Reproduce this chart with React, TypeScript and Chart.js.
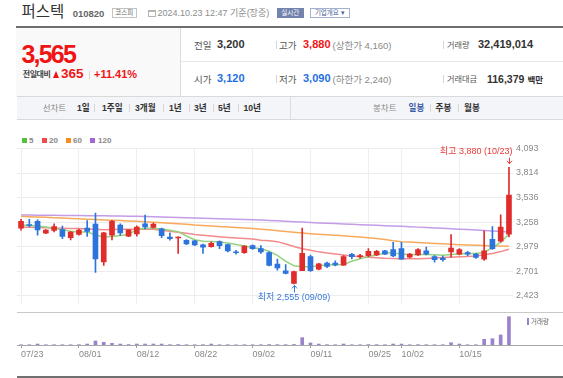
import React, { useEffect, useRef } from "react";
import { Chart, registerables } from "chart.js";
Chart.register(...registerables);

const FONT = '"Liberation Sans", "Noto Sans CJK KR", sans-serif';

const DATES = [
  "07/23","07/24","07/25","07/26","07/29","07/30","07/31",
  "08/01","08/02","08/05","08/06","08/07","08/08","08/09","08/12","08/13","08/14","08/16","08/19","08/20","08/21","08/22","08/23","08/26","08/27","08/28","08/29","08/30",
  "09/02","09/03","09/04","09/05","09/06","09/09","09/10","09/11","09/12","09/13","09/19","09/20","09/23","09/24","09/25","09/26","09/27","09/30",
  "10/02","10/04","10/07","10/08","10/10","10/11","10/14","10/15","10/16","10/17","10/18","10/21","10/22","10/23",
];
const AXIS_DATES = ["07/23","08/01","08/12","08/22","09/02","09/11","09/25","10/02","10/15"];

const OPEN = [3188,3228,3266,3130,3162,3173,3080,3116,3188,3234,2804,3108,3223,3097,3123,3237,3198,3180,3087,3076,3051,3044,2998,2979,3037,3001,2919,2909,2990,2955,2912,2779,2704,2560,2704,2865,2722,2793,2793,2768,2890,2865,2876,2883,2930,2944,2955,2858,2883,2930,2865,2847,2919,2894,2912,2894,2836,3062,3040,3120];
const HIGH = [3288,3288,3284,3173,3237,3212,3151,3177,3274,3359,3140,3277,3237,3169,3215,3338,3245,3188,3134,3090,3059,3051,3008,3033,3044,3008,2936,2990,2998,2990,2919,2836,2775,2700,3188,2883,2790,2804,2818,2876,2901,2890,2955,2936,2936,3026,3026,2901,2955,2973,2876,2872,3116,2955,2926,2901,3159,3205,3341,3880];
const LOW = [3166,3202,3108,3126,3145,3069,3054,3108,3094,2686,2765,3054,3105,3091,3097,3180,3188,3080,3051,2901,3001,2990,2901,2973,2955,2919,2893,2901,2947,2901,2758,2711,2668,2555,2704,2697,2715,2740,2758,2765,2840,2847,2865,2876,2887,2865,2836,2851,2876,2883,2801,2812,2858,2883,2876,2844,2822,2947,3030,3090];
const CLOSE = [3266,3218,3169,3166,3205,3094,3145,3166,3151,2840,3134,3266,3134,3169,3201,3201,3234,3102,3070,3087,3008,2998,2973,3015,2990,2930,2909,2984,2955,2919,2764,2736,2675,2694,2901,2704,2783,2754,2772,2865,2865,2876,2926,2926,2894,2872,2836,2894,2944,2894,2829,2829,2962,2944,2894,2855,2930,2955,3200,3565];
const VOLUME = [300000,300000,1100000,300000,300000,300000,300000,400000,1100000,4600000,3100000,1900000,1100000,500000,1100000,1100000,1100000,1100000,400000,500000,300000,300000,400000,1100000,300000,300000,200000,300000,300000,300000,500000,400000,400000,600000,8400000,2300000,1100000,400000,300000,1100000,300000,300000,500000,400000,300000,1100000,1100000,300000,400000,300000,300000,300000,2600000,1100000,300000,300000,6500000,7200000,11500000,32419014];

const MA5 = [3223,3218,3212,3202,3188,3169,3153,3143,3148,3110,3089,3094,3105,3116,3175,3188,3188,3180,3164,3148,3099,3056,3040,3037,3030,3019,3003,2987,2965,2955,2926,2880,2810,2761,2751,2751,2761,2769,2772,2775,2812,2840,2865,2883,2905,2905,2895,2885,2890,2890,2885,2880,2890,2895,2900,2900,2915,2965,3030,3120];
const MA20 = [3200,3198,3195,3192,3190,3188,3185,3185,3180,3175,3169,3172,3175,3177,3177,3180,3175,3164,3153,3143,3130,3116,3107,3100,3091,3083,3076,3071,3064,3051,3046,3035,3008,2981,2955,2937,2919,2906,2894,2883,2872,2863,2858,2853,2847,2844,2842,2840,2842,2845,2849,2854,2858,2863,2865,2871,2885,2901,2922,2949];
const MA60 = [3323,3319,3315,3311,3307,3303,3299,3295,3290,3286,3282,3278,3274,3270,3266,3261,3256,3250,3244,3238,3232,3224,3219,3213,3207,3201,3195,3189,3183,3177,3170,3160,3150,3142,3134,3126,3120,3114,3107,3101,3094,3087,3080,3070,3060,3045,3035,3030,3025,3020,3015,3010,3005,3000,2997,2993,2990,2987,2985,2983];
const MA120 = [3338,3337,3336,3335,3334,3333,3332,3331,3330,3329,3328,3327,3325,3324,3323,3320,3318,3315,3312,3310,3307,3304,3301,3298,3295,3292,3289,3286,3284,3280,3276,3271,3266,3261,3257,3252,3248,3244,3240,3236,3232,3227,3223,3220,3217,3214,3210,3205,3200,3196,3191,3187,3182,3177,3172,3166,3161,3155,3150,3145];

const PRICE_TICKS = [2423, 2701.33, 2979.67, 3258, 3536.33, 3814.67, 4093];
const PRICE_TICK_LABELS = ["2,423", "2,701", "2,979", "3,258", "3,536", "3,814", "4,093"];
const PRICE_MIN = 2331.4;
const PRICE_MAX = 4093;
const VOL_MAX = 37800000;

const UP = "#e12c2c";
const DOWN = "#2c74dc";
const VOL_COLOR = "#9a82cc";
const MA_COLORS = { m5: "#95d47f", m20: "#f28b8b", m60: "#f7aa5c", m120: "#c39de8" };
const LEGEND_COLORS = { m5: "#55c040", m20: "#f04a4a", m60: "#f98e1d", m120: "#a266d6" };

const fmt = (n: number) => n.toLocaleString("en-US");

function T({ x, b, s, c = "#333", w = 400, ls = 0, children }: any) {
  return (
    <div
      style={{
        position: "absolute",
        left: x,
        top: b - 0.8465 * s,
        fontSize: s,
        lineHeight: `${s}px`,
        color: c,
        fontWeight: w,
        letterSpacing: ls,
        whiteSpace: "nowrap",
        fontFamily: FONT,
      }}
    >
      {children}
    </div>
  );
}

function Box({ x, y, w, h, bg, border }: any) {
  return (
    <div
      style={{
        position: "absolute",
        left: x,
        top: y,
        width: w,
        height: h,
        background: bg,
        border: border,
        boxSizing: "border-box",
      }}
    />
  );
}

const hiloPlugin = {
  id: "hilo",
  afterDatasetsDraw(chart: any) {
    const { ctx, scales } = chart;
    const xs = scales.x;
    const ys = scales.y;
    let hi = 0;
    let lo = 0;
    HIGH.forEach((v, i) => { if (v > HIGH[hi]) hi = i; });
    LOW.forEach((v, i) => { if (v < LOW[lo]) lo = i; });
    ctx.save();
    ctx.font = `9px ${FONT}`;
    ctx.lineWidth = 1;
    // high
    const hx = xs.getPixelForValue(hi);
    const hy = ys.getPixelForValue(HIGH[hi]);
    ctx.fillStyle = "#ec3b3b";
    ctx.strokeStyle = "#ec3b3b";
    ctx.textAlign = "right";
    ctx.textBaseline = "middle";
    ctx.fillText(`최고 ${fmt(HIGH[hi])} (${DATES[hi]})`, hx + 3.5, hy - 15.5);
    const ax = Math.round(hx) + 0.5;
    ctx.beginPath();
    ctx.moveTo(ax, hy - 9.5);
    ctx.lineTo(ax, hy - 3.5);
    ctx.moveTo(ax - 2.5, hy - 6.5);
    ctx.lineTo(ax, hy - 3.5);
    ctx.lineTo(ax + 2.5, hy - 6.5);
    ctx.stroke();
    // low
    const lx = xs.getPixelForValue(lo);
    const ly = ys.getPixelForValue(LOW[lo]);
    ctx.fillStyle = "#3a7ad6";
    ctx.strokeStyle = "#3a7ad6";
    ctx.textAlign = "center";
    ctx.fillText(`최저 ${fmt(LOW[lo])} (${DATES[lo]})`, lx, ly + 13.5);
    const bx = Math.round(lx) + 0.5;
    ctx.beginPath();
    ctx.moveTo(bx, ly + 8.5);
    ctx.lineTo(bx, ly + 1.5);
    ctx.moveTo(bx - 2.5, ly + 4.5);
    ctx.lineTo(bx, ly + 1.5);
    ctx.lineTo(bx + 2.5, ly + 4.5);
    ctx.stroke();
    ctx.restore();
  },
};

export default function App() {
  const priceRef = useRef<HTMLCanvasElement>(null);
  const volRef = useRef<HTMLCanvasElement>(null);

  useEffect(() => {
    const axisIdx = AXIS_DATES.map((d) => DATES.indexOf(d));
    const colors = CLOSE.map((c, i) => (c >= OPEN[i] ? UP : DOWN));
    const lineDs = (label: string, data: number[], color: string, order: number) => ({
      type: "line" as const,
      label,
      data,
      borderColor: color,
      borderWidth: 1.5,
      pointRadius: 0,
      fill: false,
      tension: 0,
      order,
    });

    const price = new Chart(priceRef.current!, {
      type: "bar",
      data: {
        labels: DATES,
        datasets: [
          lineDs("120", MA120, MA_COLORS.m120, 5),
          lineDs("60", MA60, MA_COLORS.m60, 4),
          lineDs("20", MA20, MA_COLORS.m20, 3),
          lineDs("5", MA5, MA_COLORS.m5, 2),
          {
            type: "bar",
            label: "wick",
            data: LOW.map((l, i) => [l, HIGH[i]]),
            backgroundColor: colors,
            barThickness: 1,
            grouped: false,
            order: 1,
          } as any,
          {
            type: "bar",
            label: "body",
            data: OPEN.map((o, i) => [o, CLOSE[i]]),
            backgroundColor: colors,
            barThickness: 5,
            minBarLength: 1,
            grouped: false,
            order: 0,
          } as any,
        ],
      },
      options: {
        animation: false,
        responsive: false,
        events: [],
        layout: { padding: { left: 16.9, right: 0, top: 28.5, bottom: 0 } },
        plugins: { legend: { display: false }, tooltip: { enabled: false } },
        scales: {
          x: {
            offset: true,
            grid: {
              offset: false,
              drawTicks: false,
              color: (ctx: any) => (axisIdx.includes(ctx.index) ? "#eeeeee" : "rgba(0,0,0,0)"),
            },
            ticks: { display: false },
            border: { display: false },
            afterFit: (s: any) => { s.height = 0; },
          },
          y: {
            position: "right",
            min: PRICE_MIN,
            max: PRICE_MAX,
            afterBuildTicks: (s: any) => { s.ticks = PRICE_TICKS.map((v) => ({ value: v })); },
            ticks: {
              callback: (_v: any, i: number) => PRICE_TICK_LABELS[i],
              font: { size: 9, family: FONT },
              color: "#8a8a8a",
              padding: 3,
            },
            grid: { color: "#ececec", drawTicks: false },
            border: { display: false },
            afterFit: (s: any) => { s.width = 49.9; },
          },
        },
      } as any,
      plugins: [hiloPlugin],
    });

    const vol = new Chart(volRef.current!, {
      type: "bar",
      data: {
        labels: DATES,
        datasets: [{ label: "거래량", data: VOLUME, backgroundColor: VOL_COLOR, barThickness: 3 }],
      },
      options: {
        animation: false,
        responsive: false,
        events: [],
        layout: { padding: { left: 16.9, right: 49.9, top: 0, bottom: 0 } },
        plugins: { legend: { display: false }, tooltip: { enabled: false } },
        scales: {
          x: {
            offset: true,
            grid: {
              offset: false,
              drawOnChartArea: false,
              drawTicks: true,
              tickLength: 3,
              color: (ctx: any) => (axisIdx.includes(ctx.index) ? "#9a9a9a" : "rgba(0,0,0,0)"),
            },
            border: { display: false },
            ticks: {
              autoSkip: false,
              maxRotation: 0,
              minRotation: 0,
              align: "start",
              padding: 1,
              color: "#888888",
              font: { size: 9, family: FONT },
              callback: (_v: any, i: number) => (axisIdx.includes(i) ? DATES[i] : ""),
            },
            afterFit: (s: any) => { s.height = 33; },
          },
          y: { display: false, min: 0, max: VOL_MAX },
        },
      } as any,
    });

    return () => {
      price.destroy();
      vol.destroy();
    };
  }, []);

  const sep = (x: number, y: number, h = 8) => <Box x={x} y={y} w={1} h={h} bg="#d6d6d6" />;

  return (
    <div style={{ position: "fixed", left: 0, top: 0, width: 563, height: 378, background: "#fff", overflow: "hidden", fontFamily: FONT }}>
      {/* title row */}
      <T x={21.5} b={17.5} s={15.5} c="#333">퍼스텍</T>
      <T x={72.7} b={16.8} s={9.5} c="#666" w={700}>010820</T>
      <div style={{ position: "absolute", left: 112, top: 7.5, width: 24.5, height: 10.5, border: "1px solid #c3c3c3", boxSizing: "border-box", display: "flex", alignItems: "center", justifyContent: "center", fontSize: 6.5, color: "#666", fontFamily: FONT, lineHeight: 1 }}>코스피</div>
      <div style={{ position: "absolute", left: 147.5, top: 9.5, width: 8, height: 7.5, border: "1px solid #b5b5b5", borderTopWidth: 2, boxSizing: "border-box" }} />
      <T x={157.5} b={17} s={9} c="#8c8c8c">2024.10.23 12:47 기준(장중)</T>
      <div style={{ position: "absolute", left: 277, top: 7.5, width: 26.5, height: 10.5, background: "#7283ad", display: "flex", alignItems: "center", justifyContent: "center", fontSize: 6.5, color: "#fff", fontFamily: FONT, lineHeight: 1 }}>실시간</div>
      <div style={{ position: "absolute", left: 309.5, top: 7.5, width: 40.5, height: 10.5, border: "1px solid #a4b0cf", boxSizing: "border-box", display: "flex", alignItems: "center", justifyContent: "center", fontSize: 6.5, color: "#4a62a0", fontFamily: FONT, lineHeight: 1 }}>기업개요 ▾</div>
      <Box x={16} y={26} w={547} h={2} bg="#6e6e6e" />

      {/* price block */}
      <Box x={16} y={28} w={164} h={67.5} bg="#f9f9f9" />
      <Box x={180} y={28} w={1} h={67.5} bg="#dcdcdc" />
      <Box x={181} y={61} w={382} h={1} bg="#e8e8e8" />
      <T x={21.5} b={63.3} s={25} w={700} c="#f01515" ls={-1.8}>3,565</T>
      <T x={22.7} b={77.8} s={8} w={700} c="#444" ls={-0.4}>전일대비</T>
      <div style={{ position: "absolute", left: 52.7, top: 70.5, width: 0, height: 0, borderLeft: "3.7px solid transparent", borderRight: "3.7px solid transparent", borderBottom: "7px solid #f01515" }} />
      <T x={61} b={78.3} s={13.5} w={700} c="#f01515">365</T>
      {sep(89, 70.5)}
      <T x={94} b={78.3} s={11} w={700} c="#f01515">+11.41%</T>

      <T x={194} b={48.7} s={9.5} c="#555">전일</T>
      <T x={217} b={48.7} s={11} w={700} c="#333">3,200</T>
      {sep(275.5, 41)}
      <T x={279} b={48.7} s={9.5} c="#555">고가</T>
      <T x={303} b={48.7} s={11} w={700} c="#f01515">3,880</T>
      <T x={332.5} b={48.7} s={9.5} c="#888">(상한가 4,160)</T>
      {sep(443, 41)}
      <T x={447} b={48.7} s={8.2} c="#555">거래량</T>
      <T x={478} b={48.7} s={11} w={700} c="#333">32,419,014</T>

      <T x={194} b={82.7} s={9.5} c="#555">시가</T>
      <T x={217} b={82.7} s={11} w={700} c="#1f6fe3">3,120</T>
      {sep(275.5, 75)}
      <T x={279} b={82.7} s={9.5} c="#555">저가</T>
      <T x={303} b={82.7} s={11} w={700} c="#1f6fe3">3,090</T>
      <T x={332.5} b={82.7} s={9.5} c="#888">(하한가 2,240)</T>
      {sep(443, 75)}
      <T x={447} b={82.7} s={8.2} c="#555">거래대금</T>
      <T x={487} b={82.7} s={10.5} w={700} c="#333">116,379</T>
      <T x={527.5} b={82.7} s={8.5} w={700} c="#333">백만</T>

      {/* tab bar */}
      <div style={{ position: "absolute", left: 17, top: 95.5, width: 546, height: 24, background: "#f4f5f8", borderTop: "1px solid #d9d9d9", borderBottom: "1px solid #d9d9d9", boxSizing: "border-box" }} />
      <Box x={290} y={96.5} w={1} h={22} bg="#dcdcdc" />
      <T x={42.7} b={110.8} s={8.5} c="#888">선차트</T>
      <T x={77} b={110.8} s={8.6} w={700} c="#333">1일</T>
      {sep(94, 103.5)}
      <T x={102} b={110.8} s={8.6} w={700} c="#333">1주일</T>
      {sep(129, 103.5)}
      <T x={135} b={110.8} s={8.6} w={700} c="#333">3개월</T>
      {sep(163, 103.5)}
      <T x={169} b={110.8} s={8.6} w={700} c="#333">1년</T>
      {sep(188.5, 103.5)}
      <T x={194} b={110.8} s={8.6} w={700} c="#333">3년</T>
      {sep(213, 103.5)}
      <T x={218} b={110.8} s={8.6} w={700} c="#333">5년</T>
      {sep(238, 103.5)}
      <T x={243.5} b={110.8} s={8.6} w={700} c="#333">10년</T>
      <T x={373} b={110.8} s={8.5} c="#888">봉차트</T>
      <T x={408.6} b={110.8} s={8.6} w={700} c="#3a5ba8">일봉</T>
      {sep(430, 103.5)}
      <T x={435.5} b={110.8} s={8.6} w={700} c="#333">주봉</T>
      {sep(458, 103.5)}
      <T x={464} b={110.8} s={8.6} w={700} c="#333">월봉</T>

      {/* legend */}
      <Box x={21.7} y={138.3} w={5} h={5} bg={LEGEND_COLORS.m5} />
      <T x={29} b={143.7} s={8} w={700} c="#888">5</T>
      <Box x={41.7} y={138.3} w={5} h={5} bg={LEGEND_COLORS.m20} />
      <T x={49} b={143.7} s={8} w={700} c="#888">20</T>
      <Box x={65.7} y={138.3} w={5} h={5} bg={LEGEND_COLORS.m60} />
      <T x={73} b={143.7} s={8} w={700} c="#888">60</T>
      <Box x={90} y={138.3} w={5} h={5} bg={LEGEND_COLORS.m120} />
      <T x={98} b={143.7} s={8} w={700} c="#888">120</T>

      {/* charts */}
      <canvas ref={priceRef} width={563} height={192} style={{ position: "absolute", left: 0, top: 120, width: 563, height: 192 }} />
      <canvas ref={volRef} width={563} height={66} style={{ position: "absolute", left: 0, top: 312, width: 563, height: 66 }} />

      {/* volume panel lines & legend */}
      <Box x={17} y={311.5} w={546} h={1} bg="#c8c8c8" />
      <Box x={17} y={345} w={546} h={1} bg="#a8a8a8" />
      <Box x={17} y={376} w={546} h={1.5} bg="#707070" />
      <Box x={527} y={318} w={2} h={6.5} bg={VOL_COLOR} />
      <T x={531} b={324.5} s={6.5} c="#666">거래량</T>
    </div>
  );
}
